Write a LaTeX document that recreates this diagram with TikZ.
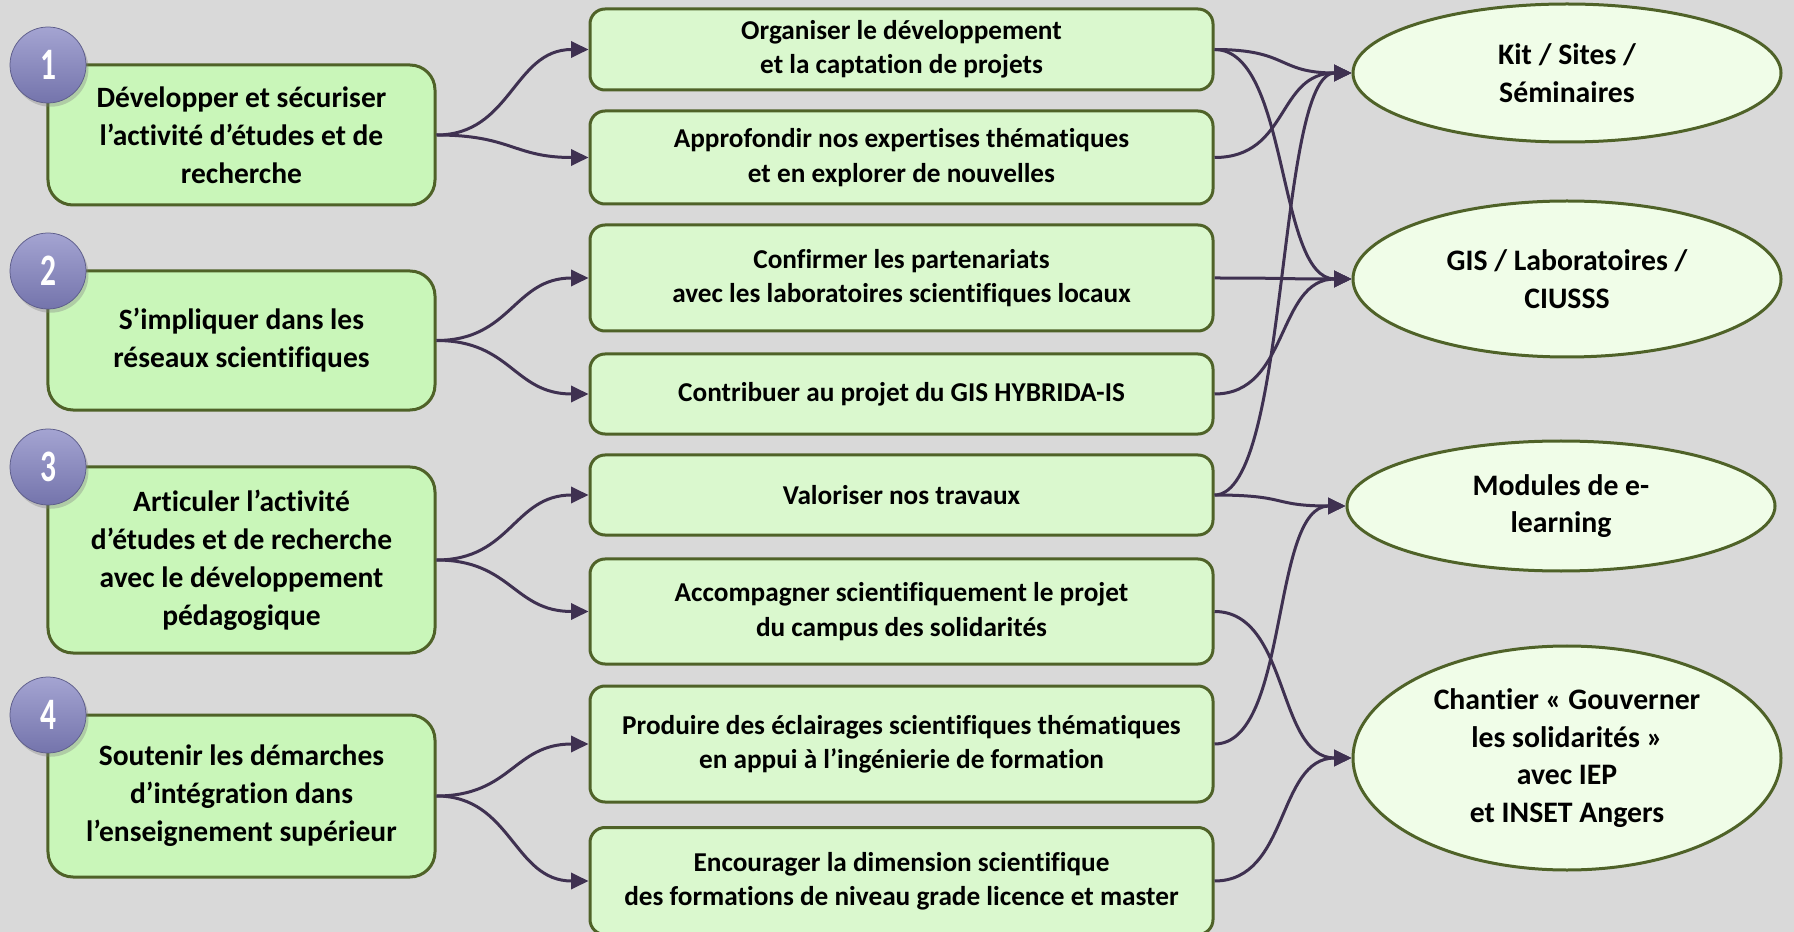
\documentclass[tikz,border=0pt]{standalone}
\usepackage{fontspec}
\setmainfont{Carlito}[Ligatures=NoCommon]
\usetikzlibrary{arrows.meta,shapes.geometric,shadows}
\definecolor{bggrey}{HTML}{D9D9D9}
\definecolor{leafgreen}{HTML}{C9F6B9}
\definecolor{palegreen}{HTML}{DAF8CE}
\definecolor{mintwhite}{HTML}{F0FDE8}
\definecolor{olive}{HTML}{4F6228}
\definecolor{plum}{HTML}{3F3151}
\definecolor{lavtop}{HTML}{A4A4D2}
\definecolor{lavbot}{HTML}{7474AC}
\tikzset{
  axe/.style={draw=olive, line width=1.2pt, fill=leafgreen, rounded corners=10pt,
    minimum width=154.8pt, inner sep=0pt, align=center,
    font=\bfseries\fontsize{11.8}{15.2}\selectfont},
  action/.style={draw=olive, line width=1.2pt, fill=palegreen, rounded corners=6pt,
    minimum width=249.2pt, inner sep=0pt, align=center,
    font=\bfseries\fontsize{10.9}{13.7}\selectfont},
  outcome/.style={ellipse, draw=olive, line width=1.2pt, fill=mintwhite,
    minimum width=171.2pt, inner sep=0pt, align=center,
    font=\bfseries\fontsize{11.9}{15}\selectfont},
  badge/.style={circle, minimum size=30.4pt, inner sep=0pt, top color=lavtop, bottom color=lavbot,
    draw=lavbot!80!black, line width=0.3pt, text=white,
    drop shadow={opacity=0.35, shadow xshift=1pt, shadow yshift=-1.5pt},
    font=\bfseries\fontsize{18}{18}\selectfont},
  flow/.style={draw=plum, line width=1.2pt, -{Triangle[length=7pt,width=6.5pt]},
    out=0, in=180, distance=30pt},
}
\newcommand{\badgenum}[1]{\scalebox{0.7}[1]{#1}}

\begin{document}
\begin{tikzpicture}[x=0.4pt, y=-0.4pt]
\useasboundingbox (0,0) rectangle (1794,932);
\fill[bggrey] (0,0) rectangle (1794,932);
\clip (0,0) rectangle (1794,932);

% axes
\node[axe, minimum height=56pt] (axe1) at (241.5,135) {Développer et sécuriser\\l’activité d’études et de\\recherche};
\node[axe, minimum height=55.6pt] (axe2) at (241.5,340.5) {S’impliquer dans les\\réseaux scientifiques};
\node[axe, minimum height=74.4pt] (axe3) at (241.5,560) {Articuler l’activité\\d’études et de recherche\\avec le développement\\pédagogique};
\node[axe, minimum height=64.8pt] (axe4) at (241.5,796) {Soutenir les démarches\\d’intégration dans\\l’enseignement supérieur};

\node[badge] (num1) at (48,65) {\badgenum{1}};
\node[badge] (num2) at (48,271) {\badgenum{2}};
\node[badge] (num3) at (48,467) {\badgenum{3}};
\node[badge] (num4) at (48,715) {\badgenum{4}};

% actions
\node[action, minimum height=32.4pt] (act1) at (901.5,49.5) {Organiser le développement\\et la captation de projets};
\node[action, minimum height=37.2pt] (act2) at (901.5,157.5) {Approfondir nos expertises thématiques\\et en explorer de nouvelles};
\node[action, minimum height=42.4pt] (act3) at (901.5,278) {Confirmer les partenariats\\avec les laboratoires scientifiques locaux};
\node[action, minimum height=32pt] (act4) at (901.5,394) {Contribuer au projet du GIS HYBRIDA-IS};
\node[action, minimum height=32pt] (act5) at (901.5,495) {Valoriser nos travaux};
\node[action, minimum height=42pt] (act6) at (901.5,611.5) {Accompagner scientifiquement le projet\\du campus des solidarités};
\node[action, minimum height=46.4pt] (act7) at (901.5,744) {Produire des éclairages scientifiques thématiques\\en appui à l’ingénierie de formation};
\node[action, minimum height=42.8pt] (act8) at (901.5,881) {Encourager la dimension scientifique\\des formations de niveau grade licence et master};

% outcomes
\node[outcome, minimum height=55.2pt] (kit) at (1567,73) {Kit / Sites /\\Séminaires};
\node[outcome, minimum height=62.4pt] (gis) at (1567,279) {GIS / Laboratoires /\\CIUSSS};
\node[outcome, minimum height=52pt] (elearn) at (1561,506) {Modules de e-\\learning};
\node[outcome, minimum height=89.6pt] (chantier) at (1567,758) {Chantier «~Gouverner\\les solidarités~»\\avec IEP\\et INSET Angers};

% axes -> actions
\draw[flow] (axe1.east) to (act1.west);
\draw[flow] (axe1.east) to (act2.west);
\draw[flow] (axe2.east) to (act3.west);
\draw[flow] (axe2.east) to (act4.west);
\draw[flow] (axe3.east) to (act5.west);
\draw[flow] (axe3.east) to (act6.west);
\draw[flow] (axe4.east) to (act7.west);
\draw[flow] (axe4.east) to (act8.west);

% actions -> outcomes
\draw[flow] (act1.east) to (kit.west);
\draw[flow] (act1.east) to (gis.west);
\draw[flow] (act2.east) to (kit.west);
\draw[flow] (act3.east) to (gis.west);
\draw[flow] (act4.east) to (gis.west);
\draw[flow] (act5.east) to (kit.west);
\draw[flow] (act5.east) to (elearn.west);
\draw[flow] (act6.east) to (chantier.west);
\draw[flow] (act7.east) to (elearn.west);
\draw[flow] (act8.east) to (chantier.west);
\end{tikzpicture}
\end{document}
